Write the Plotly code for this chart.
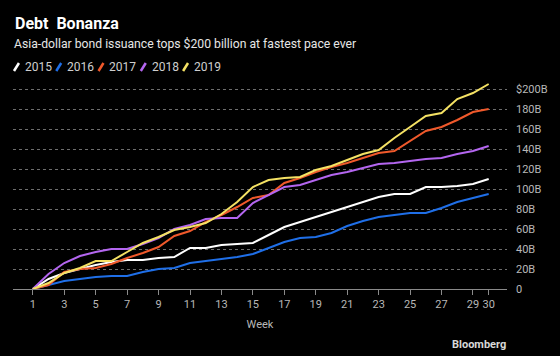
import plotly.graph_objects as go

weeks = list(range(1, 31))
years = ["2015", "2016", "2017", "2018", "2019"]
v2015 = [0, 10, 16, 20, 24, 27, 29, 29, 31, 32, 41, 41, 44, 45, 46, 54, 62, 67, 72, 77, 82, 87, 92, 95, 95, 102, 102, 103, 105, 110]
v2016 = [0, 4, 8, 10, 12, 13, 13, 17, 20, 21, 26, 28, 30, 32, 35, 41, 47, 51, 52, 56, 63, 68, 72, 74, 76, 76, 81, 87, 91, 95]
v2017 = [0, 4, 17, 20, 21, 25, 31, 36, 42, 53, 58, 67, 74, 82, 91, 94, 106, 111, 117, 122, 126, 131, 136, 138, 148, 158, 162, 169, 177, 180]
v2018 = [0, 15, 26, 33, 37, 40, 40, 45, 51, 60, 64, 70, 71, 71, 86, 94, 102, 104, 109, 114, 117, 121, 125, 126, 128, 130, 131, 135, 138, 143]
v2019 = [0, 6, 16, 21, 28, 28, 37, 46, 52, 59, 62, 66, 75, 87, 102, 109, 111, 112, 119, 123, 129, 135, 139, 151, 162, 173, 176, 190, 196, 205]
series = [v2015, v2016, v2017, v2018, v2019]
colors = ["#ffffff", "#1f6fe8", "#f0592b", "#b466f0", "#f5e264"]

x_ticks = [1, 3, 5, 7, 9, 11, 13, 15, 17, 19, 21, 23, 25, 27, 29, 30]
y_ticks = [0, 20, 40, 60, 80, 100, 120, 140, 160, 180, 200]
y_labels = ["0", "20B", "40B", "60B", "80B", "100B", "120B", "140B", "160B", "180B", "$200B"]

W, H = 560, 356
L, R, T, B = 13, 512, 77, 289
FONT = "Roboto"

def px(x):
    return (x - L) / (R - L)

def py(y):
    return (B - y) / (B - T)

fig = go.Figure()
for name, vals, c in zip(years, series, colors):
    fig.add_trace(go.Scatter(x=weeks, y=vals, mode="lines", name=name,
                             line=dict(color=c, width=2), showlegend=False,
                             hoverinfo="skip"))

annotations = [
    dict(text="<b>Debt  Bonanza</b>", x=px(13), y=py(23.5), xanchor="left", yanchor="middle",
         font=dict(size=16, color="#ffffff", family=FONT)),
    dict(text="Asia-dollar bond issuance tops $200 billion at fastest pace ever", x=px(12),
         y=py(43.5), xanchor="left", yanchor="middle",
         font=dict(size=12.2, color="#e6e6e6", family=FONT)),
    dict(text="<b>Bloomberg</b>", x=px(513), y=py(344), xanchor="right", yanchor="middle",
         font=dict(size=11, color="#d8d8d8", family=FONT)),
]
shapes = []
for i, (name, c) in enumerate(zip(years, colors)):
    x0 = 13 + i * 42.7
    shapes.append(dict(type="line", xref="paper", yref="paper",
                       x0=px(x0 + 1), y0=py(71), x1=px(x0 + 6), y1=py(63),
                       line=dict(color=c, width=2.5)))
    annotations.append(dict(text=name, x=px(x0 + 10), y=py(67), xanchor="left", yanchor="middle",
                            font=dict(size=12, color="#cfcfcf", family=FONT)))
for a in annotations:
    a.update(xref="paper", yref="paper", showarrow=False)

fig.update_layout(
    width=W, height=H,
    margin=dict(l=L, r=W - R, t=T, b=H - B),
    paper_bgcolor="#000000", plot_bgcolor="#000000",
    font=dict(family=FONT, color="#b8b8b8", size=11),
    annotations=annotations, shapes=shapes,
    xaxis=dict(range=[1 - 20 / 15.88, 30 + 18.5 / 15.88], tickvals=x_ticks,
               ticktext=[str(t) for t in x_ticks], showgrid=False, zeroline=False,
               showline=True, linecolor="#8a8a8a", linewidth=1,
               ticks="outside", ticklen=5, tickcolor="#8a8a8a",
               tickfont=dict(size=11, color="#b8b8b8"),
               title=dict(text="Week", font=dict(size=11, color="#b8b8b8"), standoff=10)),
    yaxis=dict(range=[0, 212], side="right", tickvals=y_ticks, ticktext=y_labels,
               showgrid=True, gridcolor="#6e6e6e", griddash="dot", gridwidth=1,
               zeroline=False, showline=False, ticks="", ticklabelstandoff=8,
               tickfont=dict(size=11, color="#b8b8b8")),
)
fig.write_html("out.html", config={"displayModeBar": False},
               post_script="document.body.style.margin='0';document.body.style.padding='0';document.body.style.background='#000';")
